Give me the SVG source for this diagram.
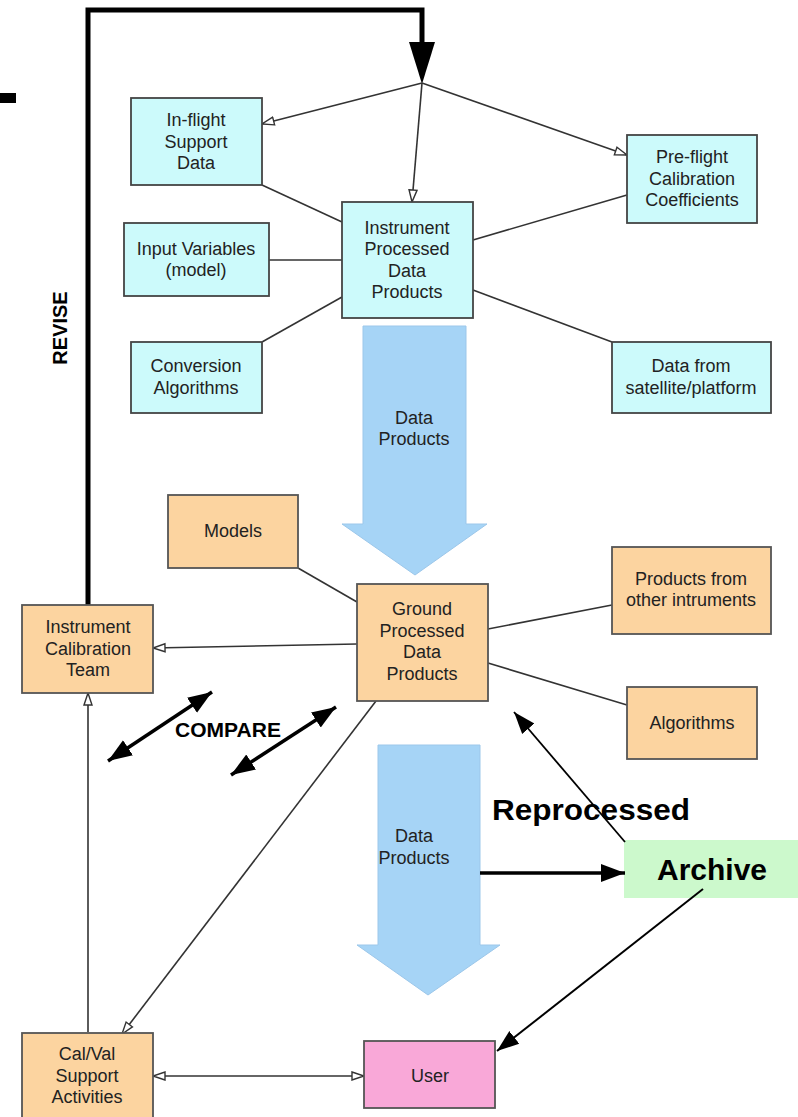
<svg xmlns="http://www.w3.org/2000/svg" width="798" height="1117" viewBox="0 0 798 1117">
<style>
.cy{fill:#ccfafb;stroke:#444;stroke-width:1.8}
.or{fill:#fcd4a0;stroke:#555;stroke-width:1.8}
.t{font-family:"Liberation Sans",Arial,sans-serif;font-size:18px;fill:#222;text-anchor:middle}
.b{font-family:"Liberation Sans",Arial,sans-serif;font-weight:bold;fill:#000}
.thin{stroke:#333;stroke-width:1.6;fill:none}
.blk{stroke:#000;fill:none}
.blue{fill:#a6d4f6;stroke:#9cc7ea;stroke-width:1}
</style>
<defs>
<marker id="ho" markerUnits="userSpaceOnUse" markerWidth="16" markerHeight="12" refX="13" refY="5" orient="auto-start-reverse" viewBox="0 0 16 10">
<path d="M1,1 L13,5 L1,9 z" fill="#fff" stroke="#333" stroke-width="1.4"/>
</marker>
<marker id="fb" markerUnits="userSpaceOnUse" markerWidth="26" markerHeight="20" refX="24" refY="10" orient="auto-start-reverse" viewBox="0 0 26 20">
<path d="M0,1 L24,10 L0,19 z" fill="#000"/>
</marker>
<marker id="fs" markerUnits="userSpaceOnUse" markerWidth="24" markerHeight="18" refX="22" refY="9" orient="auto-start-reverse" viewBox="0 0 24 18">
<path d="M0,1 L22,9 L0,17 z" fill="#000"/>
</marker>
</defs>

<rect x="0" y="93" width="16" height="10" fill="#000"/>

<g id="blue-arrow-1">
<polygon class="blue" points="363,326 466,326 466,524 487,524 415,575 342,524 363,524"/>
<text class="t" x="414" y="424">Data</text>
<text class="t" x="414" y="445">Products</text>
</g>
<g id="blue-arrow-2">
<polygon class="blue" points="378,745 480,745 480,945 500,945 428,995 357,945 378,945"/>
<text class="t" x="414" y="842">Data</text>
<text class="t" x="414" y="864">Products</text>
</g>

<g id="archive"><rect x="624" y="840" width="174" height="58" fill="#ccf9cc"/>
<text class="b" font-size="30" x="712" y="880" text-anchor="middle">Archive</text></g>

<g id="connectors">
<path d="M88,605 V10 H422 V44" stroke="#000" stroke-width="5" fill="none"/>
<polygon points="409,42 435,42 422,84" fill="#000"/>
<line class="thin" x1="422" y1="83" x2="262" y2="124" marker-end="url(#ho)"/>
<line class="thin" x1="422" y1="83" x2="412" y2="202" marker-end="url(#ho)"/>
<line class="thin" x1="422" y1="83" x2="627" y2="155" marker-end="url(#ho)"/>
<line class="thin" x1="262" y1="185" x2="342" y2="222"/>
<line class="thin" x1="269" y1="260" x2="342" y2="260"/>
<line class="thin" x1="262" y1="342" x2="342" y2="297"/>
<line class="thin" x1="627" y1="195" x2="473" y2="240"/>
<line class="thin" x1="473" y1="290" x2="612" y2="342"/>
<line class="thin" x1="298" y1="568" x2="357" y2="602"/>
<line class="thin" x1="488" y1="629" x2="612" y2="605"/>
<line class="thin" x1="488" y1="663" x2="627" y2="705"/>
<line class="thin" x1="357" y1="644" x2="153" y2="648" marker-end="url(#ho)"/>
<line class="thin" x1="88" y1="1032" x2="88" y2="693" marker-end="url(#ho)"/>
<line class="thin" x1="376" y1="701" x2="122" y2="1034" marker-end="url(#ho)"/>
<line class="thin" x1="153" y1="1076" x2="364" y2="1076" marker-start="url(#ho)" marker-end="url(#ho)"/>
<line class="blk" stroke-width="3.5" x1="108" y1="761" x2="212" y2="692" marker-start="url(#fb)" marker-end="url(#fb)"/>
<line class="blk" stroke-width="3.5" x1="231" y1="775" x2="336" y2="707" marker-start="url(#fb)" marker-end="url(#fb)"/>
<line class="blk" stroke-width="3.5" x1="480" y1="873" x2="625" y2="873" marker-end="url(#fb)"/>
<line class="blk" stroke-width="1.8" x1="625" y1="842" x2="514" y2="712" marker-end="url(#fs)"/>
<line class="blk" stroke-width="2" x1="703" y1="889" x2="497" y2="1051" marker-end="url(#fs)"/>
</g>

<text class="b" font-size="20" transform="translate(67,328) rotate(-90)" text-anchor="middle">REVISE</text>
<text class="b" font-size="21" x="228" y="737" text-anchor="middle">COMPARE</text>
<text class="b" font-size="29" x="492" y="820" textLength="198" lengthAdjust="spacingAndGlyphs">Reprocessed</text>

<g id="inflight"><rect class="cy" x="131" y="98" width="131" height="87"/>
<text class="t" x="196" y="126">In-flight</text><text class="t" x="196" y="148">Support</text><text class="t" x="196" y="169">Data</text></g>
<g id="preflight"><rect class="cy" x="627" y="135" width="130" height="88"/>
<text class="t" x="692" y="163">Pre-flight</text><text class="t" x="692" y="185">Calibration</text><text class="t" x="692" y="206">Coefficients</text></g>
<g id="instrument"><rect class="cy" x="342" y="202" width="131" height="116"/>
<text class="t" x="407" y="234">Instrument</text><text class="t" x="407" y="255">Processed</text><text class="t" x="407" y="277">Data</text><text class="t" x="407" y="298">Products</text></g>
<g id="inputvars"><rect class="cy" x="124" y="223" width="145" height="73"/>
<text class="t" x="196" y="255">Input Variables</text><text class="t" x="196" y="276">(model)</text></g>
<g id="conversion"><rect class="cy" x="131" y="342" width="131" height="71"/>
<text class="t" x="196" y="372">Conversion</text><text class="t" x="196" y="394">Algorithms</text></g>
<g id="satellite"><rect class="cy" x="612" y="342" width="159" height="71"/>
<text class="t" x="691" y="372">Data from</text><text class="t" x="691" y="394">satellite/platform</text></g>

<g id="models"><rect class="or" x="168" y="495" width="130" height="73"/>
<text class="t" x="233" y="537">Models</text></g>
<g id="ground"><rect class="or" x="357" y="584" width="131" height="117"/>
<text class="t" x="422" y="615">Ground</text><text class="t" x="422" y="637">Processed</text><text class="t" x="422" y="658">Data</text><text class="t" x="422" y="680">Products</text></g>
<g id="otherinst"><rect class="or" x="612" y="547" width="159" height="87"/>
<text class="t" x="691" y="585">Products from</text><text class="t" x="691" y="606">other intruments</text></g>
<g id="algorithms"><rect class="or" x="627" y="687" width="130" height="72"/>
<text class="t" x="692" y="729">Algorithms</text></g>
<g id="calteam"><rect class="or" x="22" y="605" width="131" height="88"/>
<text class="t" x="88" y="633">Instrument</text><text class="t" x="88" y="655">Calibration</text><text class="t" x="88" y="676">Team</text></g>
<g id="calval"><rect class="or" x="22" y="1033" width="131" height="90"/>
<text class="t" x="87" y="1060">Cal/Val</text><text class="t" x="87" y="1082">Support</text><text class="t" x="87" y="1103">Activities</text></g>
<g id="user"><rect x="364" y="1041" width="131" height="67" fill="#f9a8d8" stroke="#555" stroke-width="1.8"/>
<text class="t" x="430" y="1082">User</text></g>
</svg>
